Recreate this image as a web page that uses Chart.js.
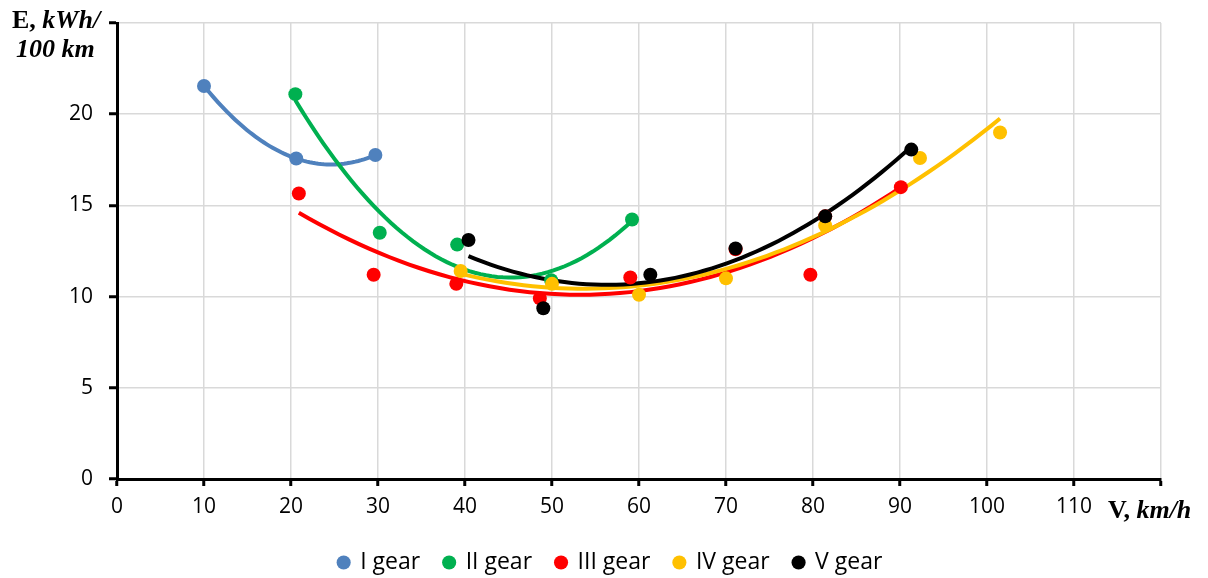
<!DOCTYPE html>
<html>
<head>
<meta charset="utf-8">
<script src="https://cdn.jsdelivr.net/npm/chart.js@4"></script>
<style>
  html, body { margin: 0; padding: 0; background: #fff; }
  #wrap { width: 1208px; height: 578px; }
</style>
</head>
<body>
<div id="wrap"><canvas id="energyChart" width="1208" height="578"></canvas></div>
<script>
// measured points, speed V (km/h) vs consumption E (kWh/100 km)
const gearNames = ['I gear', 'II gear', 'III gear', 'IV gear', 'V gear'];
const gearColors = ['#4F81BD', '#00B050', '#FF0000', '#FFC000', '#000000'];

const gear1X = [10.0, 20.6, 29.7];
const gear1Y = [21.55, 17.57, 17.76];
const gear2X = [20.5, 30.2, 39.1, 49.9, 59.2];
const gear2Y = [21.1, 13.5, 12.85, 10.9, 14.23];
// III gear: two points sit under the V gear markers (71, 81 km/h)
const gear3X = [20.9, 29.5, 39.0, 48.6, 59.0, 71.1, 79.7, 81.4, 90.1];
const gear3Y = [15.65, 11.2, 10.7, 9.9, 11.05, 12.6, 11.2, 14.4, 16.0];
const gear4X = [39.5, 50.0, 60.0, 70.0, 81.4, 92.3, 101.5];
const gear4Y = [11.4, 10.7, 10.1, 11.0, 13.9, 17.6, 19.0];
const gear5X = [40.4, 49.0, 61.3, 71.1, 81.4, 91.3];
const gear5Y = [13.1, 9.36, 11.2, 12.64, 14.4, 18.06];

const xTicks = [0, 10, 20, 30, 40, 50, 60, 70, 80, 90, 100, 110, 120];
const yTicks = [0, 5, 10, 15, 20, 25];

const gearX = [gear1X, gear2X, gear3X, gear4X, gear5X];
const gearY = [gear1Y, gear2Y, gear3Y, gear4Y, gear5Y];

// 2nd order polynomial trend (least squares), like the Excel trendline
function polyFit2(xs, ys) {
    let s0 = 0, s1 = 0, s2 = 0, s3 = 0, s4 = 0, t0 = 0, t1 = 0, t2 = 0;
    xs.forEach((x, i) => {
        const y = ys[i];
        s0 += 1; s1 += x; s2 += x * x; s3 += x * x * x; s4 += x * x * x * x;
        t0 += y; t1 += x * y; t2 += x * x * y;
    });
    const m = [[s0, s1, s2, t0], [s1, s2, s3, t1], [s2, s3, s4, t2]];
    for (let c = 0; c < 3; c++) {
        for (let r = c + 1; r < 3; r++) {
            const f = m[r][c] / m[c][c];
            for (let k = c; k < 4; k++) m[r][k] -= f * m[c][k];
        }
    }
    const coef = [0, 0, 0];
    for (let r = 2; r >= 0; r--) {
        let v = m[r][3];
        for (let k = r + 1; k < 3; k++) v -= m[r][k] * coef[k];
        coef[r] = v / m[r][r];
    }
    return coef;
}

function trendPoints(xs, ys) {
    const c = polyFit2(xs, ys);
    const lo = Math.min(...xs), hi = Math.max(...xs);
    const pts = [];
    for (let i = 0; i <= 60; i++) {
        const x = lo + (hi - lo) * i / 60;
        pts.push({ x: x, y: c[0] + c[1] * x + c[2] * x * x });
    }
    return pts;
}

const datasets = [];
gearNames.forEach((name, g) => {
    datasets.push({
        label: name,
        data: gearX[g].map((x, i) => ({ x: x, y: gearY[g][i] })),
        backgroundColor: gearColors[g],
        borderColor: gearColors[g],
        pointRadius: 7,
        pointHoverRadius: 7,
        pointBorderWidth: 0,
        showLine: false,
        order: 10 - g
    });
    datasets.push({
        label: name + ' trend',
        data: trendPoints(gearX[g], gearY[g]),
        borderColor: gearColors[g],
        borderWidth: 4,
        pointRadius: 0,
        showLine: true,
        fill: false,
        tension: 0,
        order: 20 - g
    });
});

const axisTitles = {
    id: 'axisTitles',
    afterDraw(chart) {
        const ctx = chart.ctx;
        ctx.save();
        ctx.fillStyle = '#000';
        ctx.textBaseline = 'alphabetic';
        ctx.textAlign = 'left';
        const bold = 'bold 26px "Liberation Serif", "Times New Roman", serif';
        const boldIt = 'italic bold 26px "Liberation Serif", "Times New Roman", serif';
        ctx.font = bold;
        ctx.fillText('E, ', 12, 28);
        let w = ctx.measureText('E, ').width;
        ctx.font = boldIt;
        ctx.fillText('kWh/', 12 + w, 28);
        ctx.fillText('100 km', 16, 57);
        ctx.font = bold;
        ctx.fillText('V, ', 1108, 518);
        w = ctx.measureText('V, ').width;
        ctx.font = boldIt;
        ctx.fillText('km/h', 1108 + w, 518);
        ctx.restore();
    }
};

const tickFont = { family: '"Open Sans", sans-serif', size: 21 };

const ctx = document.getElementById('energyChart').getContext('2d');
const energyChart = new Chart(ctx, {
    type: 'scatter',
    data: { datasets: datasets },
    options: {
        responsive: false,
        animation: false,
        layout: { padding: { top: 23, right: 47, left: 60, bottom: -6 } },
        plugins: {
            tooltip: { enabled: false },
            legend: {
                position: 'bottom',
                labels: {
                    usePointStyle: true,
                    pointStyle: 'circle',
                    boxWidth: 10,
                    boxHeight: 10,
                    padding: 24,
                    color: '#000',
                    font: { family: '"Open Sans", sans-serif', size: 23 },
                    filter: (item) => !item.text.endsWith('trend'),
                    sort: (a, b) => a.datasetIndex - b.datasetIndex
                }
            }
        },
        scales: {
            x: {
                type: 'linear',
                min: 0,
                max: 120,
                afterBuildTicks: (scale) => { scale.ticks = xTicks.map(v => ({ value: v })); },
                afterFit: (scale) => { scale.height = 48; },
                ticks: {
                    color: '#000',
                    font: tickFont,
                    padding: 8,
                    maxRotation: 0,
                    autoSkip: false,
                    callback: (v) => v === 120 ? '' : v
                },
                grid: { color: '#d9d9d9', lineWidth: 1.5, tickColor: '#000', tickLength: 7, tickWidth: 3 },
                border: { color: '#000', width: 3 }
            },
            y: {
                type: 'linear',
                min: 0,
                max: 25,
                afterBuildTicks: (scale) => { scale.ticks = yTicks.map(v => ({ value: v })); },
                afterFit: (scale) => {
                    scale.width = 57;
                    scale.paddingTop = 0;
                    scale.paddingBottom = 0;
                },
                ticks: {
                    color: '#000',
                    font: tickFont,
                    padding: 16,
                    autoSkip: false,
                    callback: (v) => v === 25 ? '' : v
                },
                grid: { color: '#d9d9d9', lineWidth: 1.5, tickColor: '#000', tickLength: 8, tickWidth: 3 },
                border: { color: '#000', width: 3 }
            }
        }
    },
    plugins: [axisTitles]
});
</script>
</body>
</html>
